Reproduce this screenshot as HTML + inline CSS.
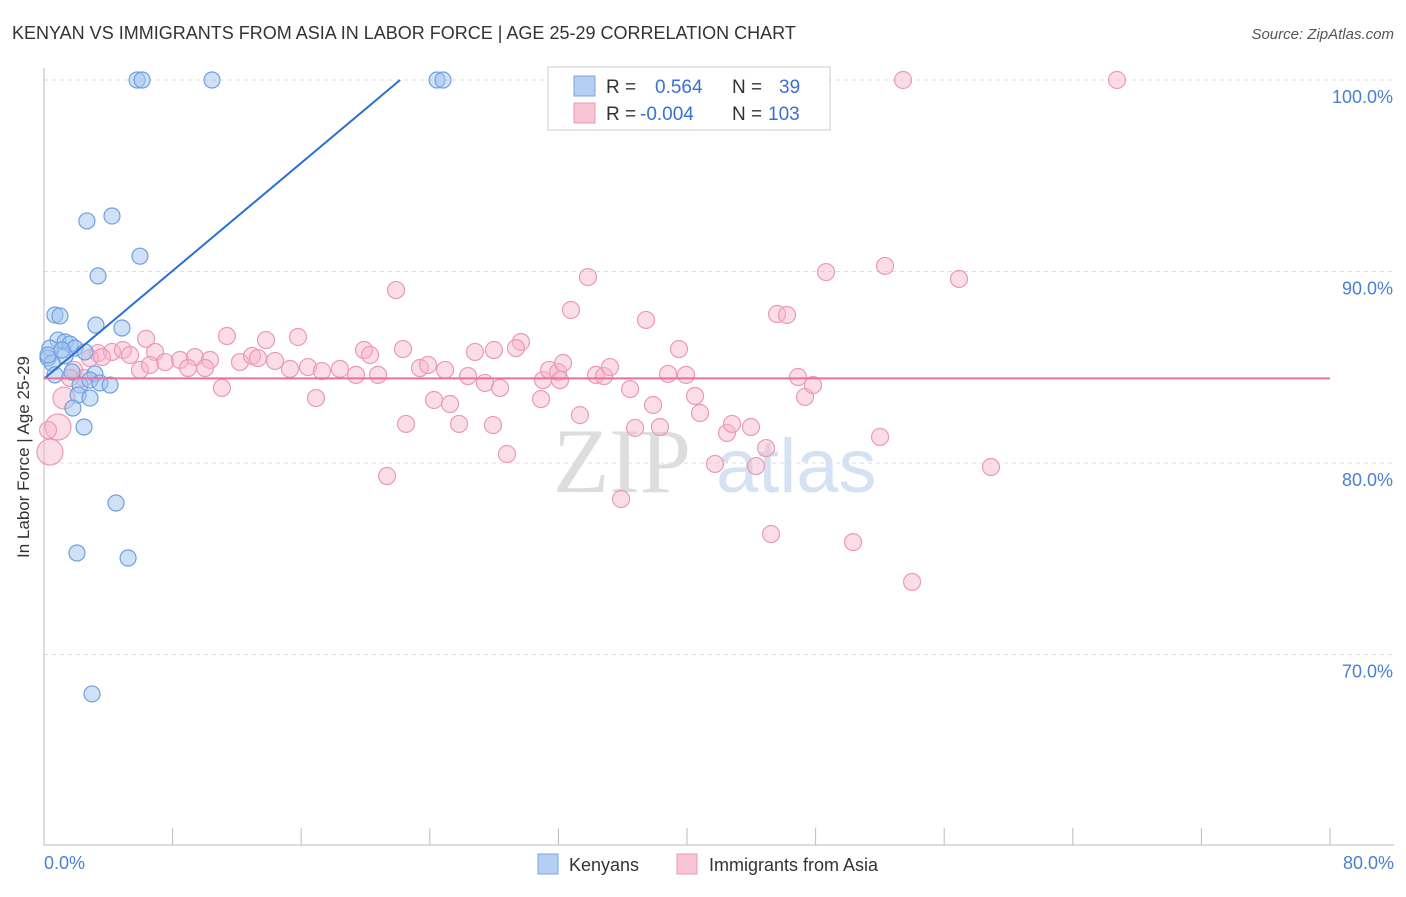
<!DOCTYPE html>
<html><head><meta charset="utf-8"><style>
body{margin:0;background:#fff;font-family:"Liberation Sans",sans-serif;}
</style></head><body>
<svg width="1406" height="892" xmlns="http://www.w3.org/2000/svg">
<text x="12" y="39" font-size="18" fill="#333">KENYAN VS IMMIGRANTS FROM ASIA IN LABOR FORCE | AGE 25-29 CORRELATION CHART</text>
<text x="1394" y="39" font-size="15" fill="#555" font-style="italic" text-anchor="end">Source: ZipAtlas.com</text>
<g>
<text x="553" y="492" font-size="92" font-family="Liberation Serif" fill="#ddd">ZIP</text>
<text x="716" y="492" font-size="76" fill="#d4e2f4">atlas</text>
</g>
<g id="grid"></g><g id="axes"></g><g id="pts"></g><g id="trends"></g>
<text x="29" y="457" font-size="17" fill="#333" text-anchor="middle" transform="rotate(-90 29 457)">In Labor Force | Age 25-29</text>
<text x="44" y="869" font-size="18" fill="#4a7fd4">0.0%</text>
<text x="1394" y="869" font-size="18" fill="#4a7fd4" text-anchor="end">80.0%</text>
<g>
<rect x="548" y="67" width="282" height="63" fill="#fff" stroke="#ccc"/>
<rect x="574" y="76" width="21" height="20" fill="#b5cff2" stroke="#7aa6e2"/>
<rect x="574" y="103" width="21" height="20" fill="#f9c4d4" stroke="#eb9ab5"/>
<text y="93" font-size="19" fill="#333"><tspan x="606">R = </tspan><tspan x="655" fill="#3b6fd4">0.564</tspan><tspan x="732">N = </tspan><tspan x="779" fill="#3b6fd4">39</tspan></text>
<text y="120" font-size="19" fill="#333"><tspan x="606">R = </tspan><tspan x="640" fill="#3b6fd4">-0.004</tspan><tspan x="732">N = </tspan><tspan x="768" fill="#3b6fd4">103</tspan></text>
</g>
<g>
<rect x="538" y="854" width="20" height="20" fill="#b5cff2" stroke="#7aa6e2"/>
<text x="569" y="871" font-size="18" fill="#333">Kenyans</text>
<rect x="677" y="854" width="20" height="20" fill="#f9c4d4" stroke="#eb9ab5"/>
<text x="709" y="871" font-size="18" fill="#333">Immigrants from Asia</text>
</g>
</svg>
<script>
const yTicks=[100,90,80,70];
const yTickLabels=["100.0%","90.0%","80.0%","70.0%"];
const xTicks=[0,8,16,24,32,40,48,56,64,72,80];
const blueX=[5.79,6.10,10.45,24.45,24.82,2.67,4.23,5.97,3.36,0.68,0.99,3.23,4.85,0.87,1.31,1.62,0.37,1.93,2.55,0.25,1.31,0.5,0.68,1.74,3.17,2.24,2.86,3.48,4.11,2.12,2.86,1.80,2.49,4.48,2.05,5.23,2.99,0.25,1.12];
const blueY=[100,100,100,100,100,92.64,92.9,90.8,89.77,87.73,87.68,87.2,87.05,86.42,86.32,86.21,86.0,86.0,85.8,85.48,85.59,85.22,84.6,84.75,84.65,84.07,84.33,84.18,84.07,83.55,83.39,82.87,81.88,77.91,75.3,75.04,67.94,85.64,85.9];
const pinkX=[53.44,66.75,33.84,48.65,52.32,56.92,21.9,32.78,37.45,45.6,46.22,6.35,11.38,13.81,15.8,19.91,22.33,27.99,29.67,29.36,39.5,6.91,7.53,8.46,9.39,10.33,12.19,12.94,13.31,14.37,16.42,20.28,3.36,4.23,4.91,5.35,2.86,2.49,1.87,5.97,8.96,10.02,15.3,17.29,18.41,19.41,20.78,23.39,23.89,24.95,26.38,27.43,28.37,31.04,31.42,31.98,32.29,34.34,34.84,35.21,36.46,38.82,39.94,40.5,40.81,37.89,30.92,24.26,25.26,16.92,11.07,22.52,25.82,27.93,36.77,38.32,42.49,42.8,43.98,44.92,44.29,41.74,46.91,47.34,47.84,52.01,58.91,21.34,28.8,35.9,45.23,50.33,54.0,1.24,0.87,0.37,0.25,1.62,3.61,6.59,32.1,33.34,26.81];
const pinkY=[100,100,89.71,89.97,90.29,89.61,89.03,87.99,87.47,87.78,87.73,86.48,86.63,86.42,86.58,85.9,85.95,85.9,86.32,86.0,85.95,85.8,85.27,85.38,85.53,85.38,85.27,85.59,85.48,85.33,85.01,85.64,85.74,85.8,85.9,85.64,85.48,84.44,84.86,84.86,84.96,84.96,84.91,84.8,84.91,84.6,84.6,84.96,85.12,84.86,84.54,84.18,83.92,84.33,84.86,84.75,85.22,84.6,84.54,85.01,83.86,84.65,84.6,83.5,82.61,83.03,83.34,83.29,83.08,83.39,83.92,82.04,82.04,81.98,81.83,81.88,81.57,82.04,81.88,80.78,79.84,79.95,84.49,83.45,84.07,81.36,79.79,79.32,80.47,78.12,76.29,75.87,73.79,83.39,81.88,80.57,81.72,84.44,85.53,85.12,84.33,82.5,85.8];
const pinkBig=[93,94,95];
const blueTrend=[[0,84.4],[22.15,100]];
const pinkTrend=[[0,84.42],[80,84.42]];
const NS="http://www.w3.org/2000/svg";
const xs=v=>44+v/80*1286, ys=v=>80+(100-v)*19.15;
function mk(p,t,a){const e=document.createElementNS(NS,t);for(const k in a)e.setAttribute(k,a[k]);document.getElementById(p).appendChild(e);return e;}
yTicks.forEach((t,i)=>{
 const l=mk('grid','line',{x1:44,x2:1394,y1:ys(t),y2:ys(t),stroke:'#ddd','stroke-dasharray':'4,4'});
 
 
 const tx=mk('grid','text',{x:1393,y:ys(t)+23,'font-size':18,fill:'#4a7fd4','text-anchor':'end'});
 tx.textContent=yTickLabels[i];
 
 
});
let ax=mk('axes','line',{x1:44,x2:44,y1:68,y2:845,stroke:'#bbb'});


ax=mk('axes','line',{x1:44,x2:1394,y1:845,y2:845,stroke:'#bbb'});


xTicks.forEach(t=>{
 const l=mk('axes','line',{x1:xs(t),x2:xs(t),y1:828,y2:845,stroke:'#bbb'});
 
 
});
pinkX.forEach((x,i)=>{
 const c=mk('pts','circle',{cx:xs(x),cy:ys(pinkY[i]),r:pinkBig.includes(i)?(i==93?11:13):8.5,fill:'rgba(246,180,202,0.45)',stroke:'#eb9ab5','stroke-width':1.2});
 
 
});
blueX.forEach((x,i)=>{
 const c=mk('pts','circle',{cx:xs(x),cy:ys(blueY[i]),r:8,fill:'rgba(160,195,240,0.5)',stroke:'#6f9fe0','stroke-width':1.2});
 
 
});
let tl=mk('trends','line',{x1:xs(blueTrend[0][0]),y1:ys(blueTrend[0][1]),x2:xs(blueTrend[1][0]),y2:ys(blueTrend[1][1]),stroke:'#2a6fd6','stroke-width':2});


tl=mk('trends','line',{x1:xs(pinkTrend[0][0]),y1:ys(pinkTrend[0][1]),x2:xs(pinkTrend[1][0]),y2:ys(pinkTrend[1][1]),stroke:'#e8709a','stroke-width':2});


</script>
</body></html>
